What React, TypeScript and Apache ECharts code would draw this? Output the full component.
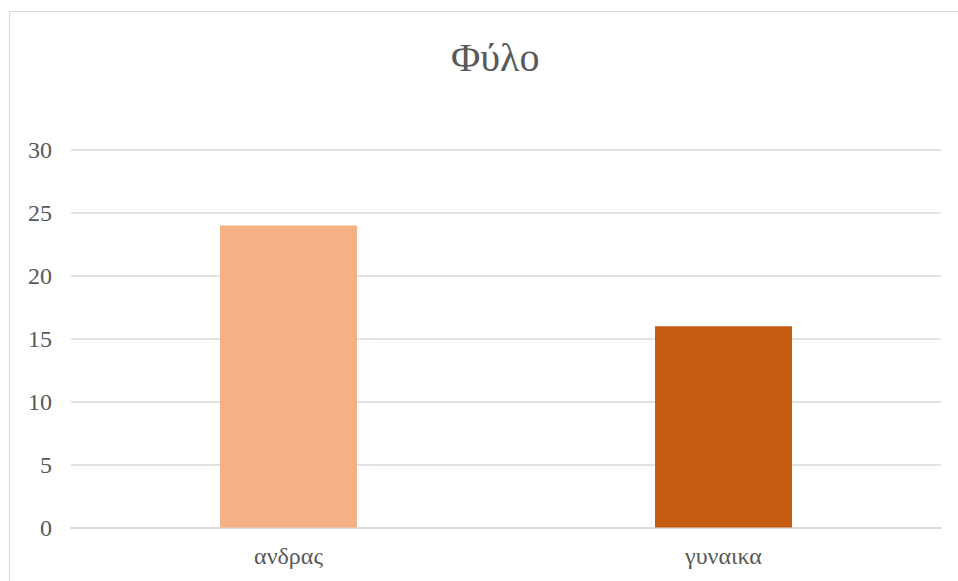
import React, { useEffect, useRef } from "react";
import * as echarts from "echarts";

const categories = ["ανδρας", "γυναικα"];
const values = [24, 16];
const barColors = ["#F4B183", "#C55A11"];
const titleText = "Φύλο";

export default function App() {
  const ref = useRef<HTMLDivElement>(null);
  useEffect(() => {
    if (!ref.current) return;
    const chart = echarts.init(ref.current, undefined, { renderer: "svg" });
    const font = "'Liberation Serif', 'Times New Roman', serif";
    chart.setOption({
      animation: false,
      backgroundColor: "#ffffff",
      title: {
        text: titleText,
        left: 446,
        top: 32,
        textStyle: { fontFamily: font, fontSize: 40, fontWeight: "normal", color: "#595959" },
      },
      graphic: [
        {
          type: "rect",
          shape: { x: 9.5, y: 11.5, width: 1000, height: 700 },
          style: { fill: "none", stroke: "#D9D9D9", lineWidth: 1 },
          silent: true,
        },
      ],
      grid: { left: 71, right: 17, top: 150, bottom: 53.5, containLabel: false },
      xAxis: {
        type: "category",
        data: categories,
        axisLine: { show: true, lineStyle: { color: "#D9D9D9", width: 1.5 } },
        axisTick: { show: false },
        axisLabel: { fontFamily: font, fontSize: 24, color: "#595959", margin: 16 },
      },
      yAxis: {
        type: "value",
        min: 0,
        max: 30,
        interval: 5,
        axisLine: { show: false },
        axisTick: { show: false },
        splitLine: { lineStyle: { color: "#D9D9D9", width: 1.5 } },
        axisLabel: { fontFamily: font, fontSize: 24, color: "#595959", margin: 19 },
      },
      series: [
        {
          type: "bar",
          barWidth: 137,
          data: values.map((v, i) => ({ value: v, itemStyle: { color: barColors[i] } })),
        },
      ],
    });
    return () => chart.dispose();
  }, []);
  return (
    <div
      ref={ref}
      style={{ position: "fixed", left: 0, top: 0, width: 958, height: 581 }}
    />
  );
}
